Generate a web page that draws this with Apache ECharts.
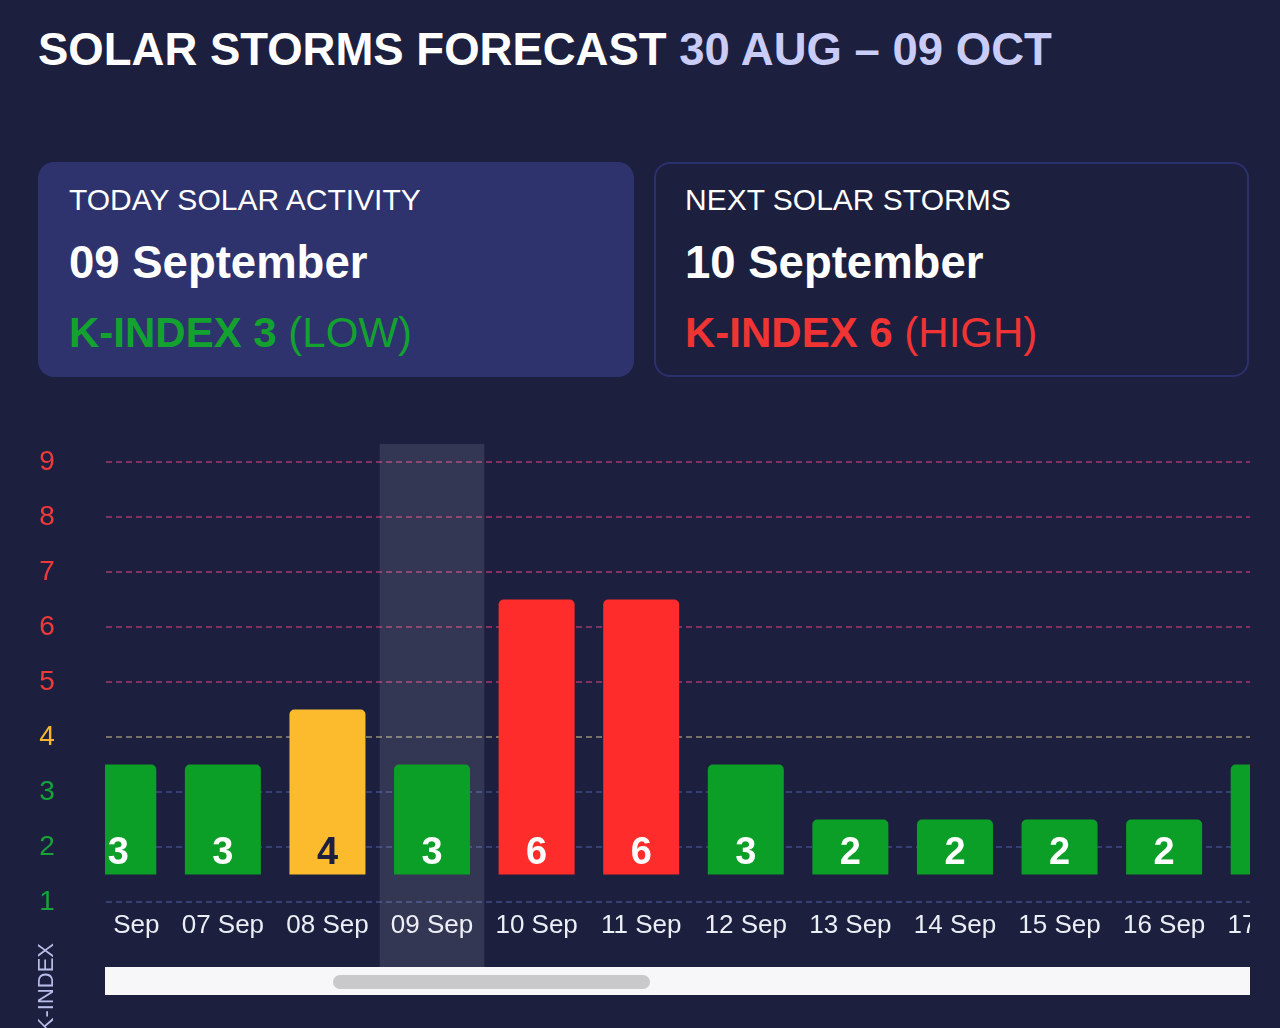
<!DOCTYPE html>
<html><head><meta charset="utf-8">
<script src="https://cdn.jsdelivr.net/npm/echarts@6/dist/echarts.min.js"></script>
<style>
html,body{margin:0;padding:0;background:#1c1f3e;width:1280px;height:1028px;overflow:hidden;font-family:"Liberation Sans",Arial,Helvetica,sans-serif;}
.t{position:absolute;white-space:nowrap;line-height:1;}
.card{position:absolute;box-sizing:border-box;border-radius:16px;}
#yaxis{position:absolute;left:0;top:400px;width:105px;height:628px;}
#clip{position:absolute;left:105px;top:400px;width:1145px;height:567px;overflow:hidden;}
#chart{position:absolute;top:0;height:567px;}
#track{position:absolute;left:105px;top:967px;width:1145px;height:28px;background:#f7f7f9;}
#thumb{position:absolute;left:333px;top:975px;width:317px;height:14px;border-radius:7px;background:#c9c9cc;}
</style></head><body>
<div class="t" style="left:38px;top:27px;font-size:45.5px;font-weight:bold;color:#ffffff;">SOLAR STORMS FORECAST <span style="color:#c9ccf6">30 AUG – 09 OCT</span></div>

<div class="card" style="left:38px;top:162px;width:596px;height:215px;background:#2e336d;"></div>
<div class="card" style="left:654px;top:162px;width:595px;height:215px;border:2px solid #2b316d;"></div>

<div class="t" style="left:69px;top:185px;font-size:30px;color:#ffffff;">TODAY SOLAR ACTIVITY</div>
<div class="t" style="left:69px;top:240px;font-size:45.5px;font-weight:bold;color:#ffffff;">09 September</div>
<div class="t" style="left:69px;top:312px;font-size:42px;color:#13a22f;"><b>K-INDEX 3</b> (LOW)</div>

<div class="t" style="left:685px;top:185px;font-size:30px;color:#ffffff;">NEXT SOLAR STORMS</div>
<div class="t" style="left:685px;top:240px;font-size:45.5px;font-weight:bold;color:#ffffff;">10 September</div>
<div class="t" style="left:685px;top:312px;font-size:42px;color:#f03434;"><b>K-INDEX 6</b> (HIGH)</div>

<div id="yaxis"></div>
<div id="clip"><div id="chart"></div></div>
<div id="track"></div>
<div id="thumb"></div>

<script>
// ---- data ----
const categories = ['06 Sep','07 Sep','08 Sep','09 Sep','10 Sep','11 Sep','12 Sep','13 Sep','14 Sep','15 Sep','16 Sep','17 Sep'];
const kIndex = [3, 3, 4, 3, 6, 6, 3, 2, 2, 2, 2, 3];
const yTickLabels = [1, 2, 3, 4, 5, 6, 7, 8, 9];
const TODAY = '09 Sep';

// ---- style ----
const FONT = '"Liberation Sans", Arial, Helvetica, sans-serif';
const GREEN = '#0b9f27', YELLOW = '#fbbb2c', RED = '#ff2c2c';
const LBL_GREEN = '#17a23a', LBL_YELLOW = '#f6b72e', LBL_RED = '#f03a3a';
const GL_BLUE = 'rgba(95,110,190,0.55)', GL_YEL = 'rgba(200,190,140,0.7)', GL_RED = 'rgba(220,70,130,0.7)';
function barColor(k){ return k <= 3 ? GREEN : (k === 4 ? YELLOW : RED); }
function labelColor(k){ return k <= 3 ? LBL_GREEN : (k === 4 ? LBL_YELLOW : LBL_RED); }
function gridColor(k){ return k <= 3 ? GL_BLUE : (k === 4 ? GL_YEL : GL_RED); }
const BAR_BASE = 1.5, BAR_TOP_PAD = 0.5;
const CAT_W = 104.6;        // px per category in the scrolled view
const SCROLL_LEFT = 38.8;   // scroll offset of the view

// ---- y axis (fixed) ----
const yChart = echarts.init(document.getElementById('yaxis'));
yChart.setOption({
  animation: false,
  grid: {left: 104, right: 0, top: 62, bottom: 71},
  xAxis: {type: 'category', show: false, data: ['']},
  yAxis: {
    type: 'value', min: 0, max: 9, interval: 1,
    axisLine: {show: false}, axisTick: {show: false}, splitLine: {show: false},
    axisLabel: {
      align: 'center', margin: 57, fontSize: 28, fontFamily: FONT,
      color: function(v){ return labelColor(+v); },
      formatter: function(v){ return yTickLabels.indexOf(v) >= 0 ? String(v) : ''; }
    }
  },
  graphic: [{
    type: 'text', x: 47, y: 543, rotation: Math.PI / 2,
    style: {text: 'K-INDEX', fill: '#b9bde9', font: '22px ' + FONT,
            align: 'right', verticalAlign: 'middle', textAlign: 'right', textVerticalAlign: 'middle'}
  }],
  series: []
});

// ---- scrolled bar chart ----
const chartEl = document.getElementById('chart');
chartEl.style.width = (categories.length * CAT_W) + 'px';
chartEl.style.left = (-SCROLL_LEFT) + 'px';
const chart = echarts.init(chartEl);

const todayIdx = categories.indexOf(TODAY);
const highlight = categories.map(function(c, i){ return i === todayIdx ? 1 : null; });
const baseData = kIndex.map(function(){ return BAR_BASE; });
const visData = kIndex.map(function(k){
  return {value: k + BAR_TOP_PAD - BAR_BASE, label: {color: k === 4 ? '#1c1f3e' : '#ffffff'}};
});
const gridLines = yTickLabels.map(function(v){
  return {yAxis: v, lineStyle: {color: gridColor(v), type: [6, 4], width: 1.6}};
});

chart.setOption({
  animation: false,
  grid: [
    {left: 0, right: 0, top: 62, bottom: 10},
    {left: 0, right: 0, top: 44, bottom: 0}
  ],
  xAxis: [
    {type: 'category', gridIndex: 0, data: categories,
     axisLine: {show: false}, axisTick: {show: false},
     axisLabel: {interval: 0, margin: -44, fontSize: 26, fontFamily: FONT, color: '#eceef6'}},
    {type: 'category', gridIndex: 1, data: categories, show: false}
  ],
  yAxis: [
    {type: 'value', gridIndex: 0, min: 0, max: 9, interval: 1,
     axisLabel: {show: false}, axisLine: {show: false}, axisTick: {show: false},
     splitLine: {show: false}},
    {type: 'value', gridIndex: 1, min: 0, max: 1, show: false, splitLine: {show: false}}
  ],
  series: [
    {type: 'bar', xAxisIndex: 1, yAxisIndex: 1, data: highlight, barWidth: '100%',
     itemStyle: {color: 'rgba(255,255,255,0.11)'}, silent: true, z: 1},
    {type: 'bar', xAxisIndex: 0, yAxisIndex: 0, stack: 'k', data: baseData, barWidth: 76,
     itemStyle: {color: 'rgba(0,0,0,0)'}, silent: true, z: 2,
     markLine: {silent: true, z: 1, symbol: ['none', 'none'], label: {show: false}, animation: false,
                emphasis: {disabled: true}, data: gridLines}},
    {type: 'bar', xAxisIndex: 0, yAxisIndex: 0, stack: 'k', data: visData, barWidth: 76, z: 3,
     itemStyle: {
       borderRadius: [5, 5, 0, 0],
       color: function(p){ return barColor(kIndex[p.dataIndex]); }
     },
     label: {
       show: true, position: 'insideBottom', distance: 2,
       fontSize: 38, fontWeight: 'bold', fontFamily: FONT,
       formatter: function(p){ return String(kIndex[p.dataIndex]); }
     }}
  ]
});
</script>
</body></html>
